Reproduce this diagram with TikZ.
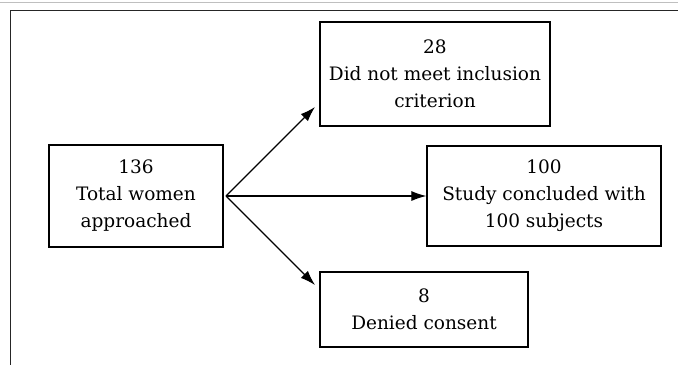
\documentclass[tikz,border=0pt]{standalone}
\usepackage{fontspec}
\setmainfont{DejaVu Serif}
\usetikzlibrary{arrows.meta}
\begin{document}
\begin{tikzpicture}[x=1pt,y=-1pt,
  box/.style={draw=black, line width=1.2pt, align=center, inner sep=0pt,
    font=\fontsize{18.5}{27}\selectfont},
  arr/.style={line width=1.1pt, -{Latex[length=15pt,width=10pt]}},
  frame/.style={line width=1.2pt, black!85}]
\useasboundingbox (0,0) rectangle (678,365);
\fill[white] (0,0) rectangle (678,365);
% frame
\draw[gray!50, line width=1pt] (0,2.5) -- (678,2.5);
\draw[frame] (678,10.5) -- (10.5,10.5) -- (10.5,365);
% boxes
\node[box, minimum width=174pt, minimum height=102pt] (a) at (136,196) {136\\Total women\\approached};
\node[box, minimum width=230pt, minimum height=104pt] (b) at (435,74) {28\\Did not meet inclusion\\criterion};
\node[box, minimum width=234pt, minimum height=100pt] (c) at (544,196) {100\\Study concluded with\\100 subjects};
\node[box, minimum width=208pt, minimum height=75pt] (d) at (424,309.5) {8\\Denied consent};
% arrows
\coordinate (o) at (226,196);
\coordinate (tb) at (315,107);
\coordinate (td) at (315,285);
\draw[arr] (o) -- (tb);
\draw[arr] (o) -- (c.west);
\draw[arr] (o) -- (td);
\end{tikzpicture}
\end{document}
